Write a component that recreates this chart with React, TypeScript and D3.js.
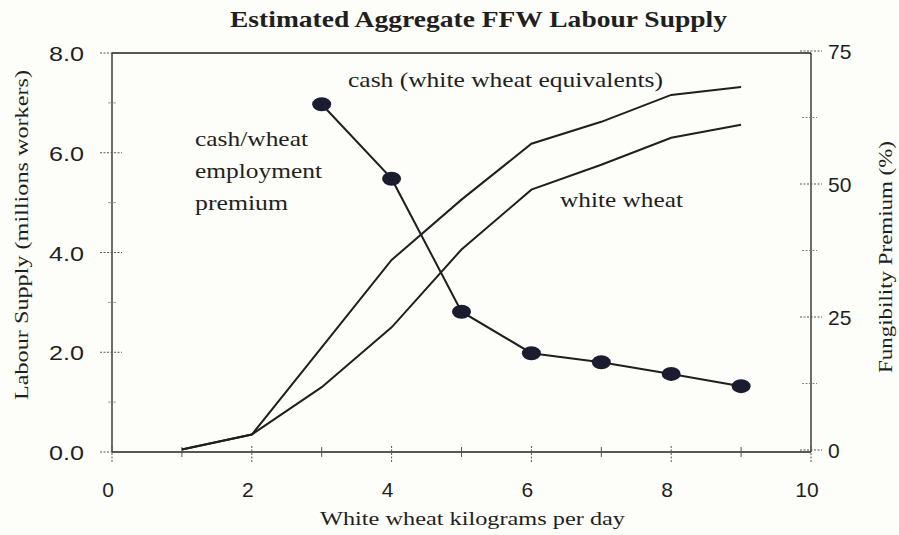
import React from "react";
import * as d3 from "d3";

const xVals = [1, 2, 3, 4, 5, 6, 7, 8, 9];
const cashSupply = [0.05, 0.35, 2.1, 3.85, 5.06, 6.18, 6.62, 7.16, 7.32];
const wheatSupply = [0.05, 0.35, 1.3, 2.5, 4.06, 5.26, 5.76, 6.3, 6.56];
const premiumX = [3, 4, 5, 6, 7, 8, 9];
const premiumVals = [65, 51, 26, 18.2, 16.5, 14.3, 12];
const xTicks = [0, 2, 4, 6, 8, 10];
const xMinor = [1, 3, 5, 7, 9];
const leftTicks = [0, 2, 4, 6, 8];
const leftMinor = [1, 3, 5, 7];
const rightTicks = [0, 25, 50, 75];
const rightMinor = [12.5, 37.5, 62.5];

export default function App() {
  const W = 899, H = 535;
  const x = d3.scaleLinear().domain([0, 10]).range([112, 811]);
  const yL = d3.scaleLinear().domain([0, 8]).range([452, 53]);
  const yR = d3.scaleLinear().domain([0, 75]).range([450, 51]);
  const line = d3.line<[number, number]>().x(d => x(d[0])).y(d => yL(d[1]));
  const lineR = d3.line<[number, number]>().x(d => x(d[0])).y(d => yR(d[1]));
  const cashPts = xVals.map((v, i) => [v, cashSupply[i]] as [number, number]);
  const wheatPts = xVals.map((v, i) => [v, wheatSupply[i]] as [number, number]);
  const premPts = premiumX.map((v, i) => [v, premiumVals[i]] as [number, number]);
  const ink = "#1f1f1f";
  const serif = "'Liberation Serif', 'DejaVu Serif', serif";
  const sans = "'Liberation Sans', Arial, sans-serif";
  const x0 = x(0), x1 = x(10), yTop = yL(8), yBot = yL(0);
  const fit = { lengthAdjust: "spacingAndGlyphs" as const };
  return (
    <svg width={W} height={H} style={{ position: "absolute", left: 0, top: 0, background: "#fdfdf9" }}>
      <rect x={0} y={0} width={W} height={H} fill="#fdfdf9" />
      <text x={230} y={27} textLength={497} {...fit} fontFamily={serif} fontWeight="bold" fontSize={23} fill={ink}>
        Estimated Aggregate FFW Labour Supply
      </text>
      {/* frame */}
      <line x1={x0} y1={yTop} x2={x1} y2={yTop} stroke={ink} strokeWidth={1.3} />
      <line x1={x0} y1={yBot} x2={x1} y2={yBot} stroke={ink} strokeWidth={1.3} />
      <line x1={x0} y1={yTop} x2={x0} y2={yBot} stroke={ink} strokeWidth={1.3} />
      <line x1={x1} y1={yTop} x2={x1} y2={yBot} stroke={ink} strokeWidth={1.3} />
      {/* left ticks */}
      {leftTicks.map(t => (
        <g key={"l" + t}>
          <line x1={x0 - 12} x2={x0 + 10} y1={yL(t)} y2={yL(t)} stroke="#555" strokeWidth={1} strokeDasharray="2,1.5" />
          <text x={49} y={yL(t) + 8} textLength={35} {...fit} fontFamily={sans} fontSize={21} fill={ink}>{t.toFixed(1)}</text>
        </g>
      ))}
      {leftMinor.map(t => (
        <line key={"lm" + t} x1={x0 - 4} x2={x0 + 4} y1={yL(t)} y2={yL(t)} stroke="#888" strokeWidth={0.8} />
      ))}
      {/* right ticks */}
      {rightTicks.map(t => (
        <g key={"r" + t}>
          <line x1={x1 - 11} x2={x1 + 11} y1={yR(t)} y2={yR(t)} stroke="#555" strokeWidth={1} strokeDasharray="2,1.5" />
          <text x={828} y={yR(t) + 8} textAnchor="start" fontFamily={sans} fontSize={21} fill={ink}>{t}</text>
        </g>
      ))}
      {rightMinor.map(t => (
        <line key={"rm" + t} x1={x1 - 9} x2={x1 + 6} y1={yR(t)} y2={yR(t)} stroke="#777" strokeWidth={0.9} strokeDasharray="2,1.5" />
      ))}
      {/* x ticks */}
      {xTicks.map(t => (
        <g key={"x" + t}>
          <line x1={x(t)} x2={x(t)} y1={yBot - 6} y2={yBot + 10} stroke="#555" strokeWidth={1} strokeDasharray="2,1.5" />
          <text x={x(t) - 4} y={497} textAnchor="middle" fontFamily={sans} fontSize={21} fill={ink}>{t}</text>
        </g>
      ))}
      {xMinor.map(t => (
        <line key={"xm" + t} x1={x(t)} x2={x(t)} y1={yBot - 5} y2={yBot + 5} stroke="#555" strokeWidth={1} />
      ))}
      {/* series */}
      <path d={line(cashPts) || ""} fill="none" stroke={ink} strokeWidth={2} />
      <path d={line(wheatPts) || ""} fill="none" stroke={ink} strokeWidth={2} />
      <path d={lineR(premPts) || ""} fill="none" stroke={ink} strokeWidth={2} />
      {premPts.map((p, i) => (
        <ellipse key={"d" + i} cx={x(p[0])} cy={yR(p[1])} rx={9.5} ry={7} fill="#1c1c30" />
      ))}
      {/* annotations */}
      <text x={348} y={87} textLength={315} {...fit} fontFamily={serif} fontSize={21} fill={ink}>cash (white wheat equivalents)</text>
      <text x={560} y={207} textLength={123} {...fit} fontFamily={serif} fontSize={21} fill={ink}>white wheat</text>
      <text x={195} y={146} textLength={113} {...fit} fontFamily={serif} fontSize={21} fill={ink}>cash/wheat</text>
      <text x={195} y={178} textLength={127} {...fit} fontFamily={serif} fontSize={21} fill={ink}>employment</text>
      <text x={195} y={210} textLength={93} {...fit} fontFamily={serif} fontSize={21} fill={ink}>premium</text>
      {/* axis titles */}
      <text x={320} y={525} textLength={305} {...fit} fontFamily={serif} fontSize={19} fill={ink}>White wheat kilograms per day</text>
      <text transform="translate(28,235) rotate(-90)" textAnchor="middle" textLength={330} {...fit} fontFamily={serif} fontSize={19} fill={ink}>
        Labour Supply (millions workers)
      </text>
      <text transform="translate(892,257) rotate(-90)" textAnchor="middle" textLength={232} {...fit} fontFamily={serif} fontSize={19} fill={ink}>
        Fungibility Premium (%)
      </text>
    </svg>
  );
}
